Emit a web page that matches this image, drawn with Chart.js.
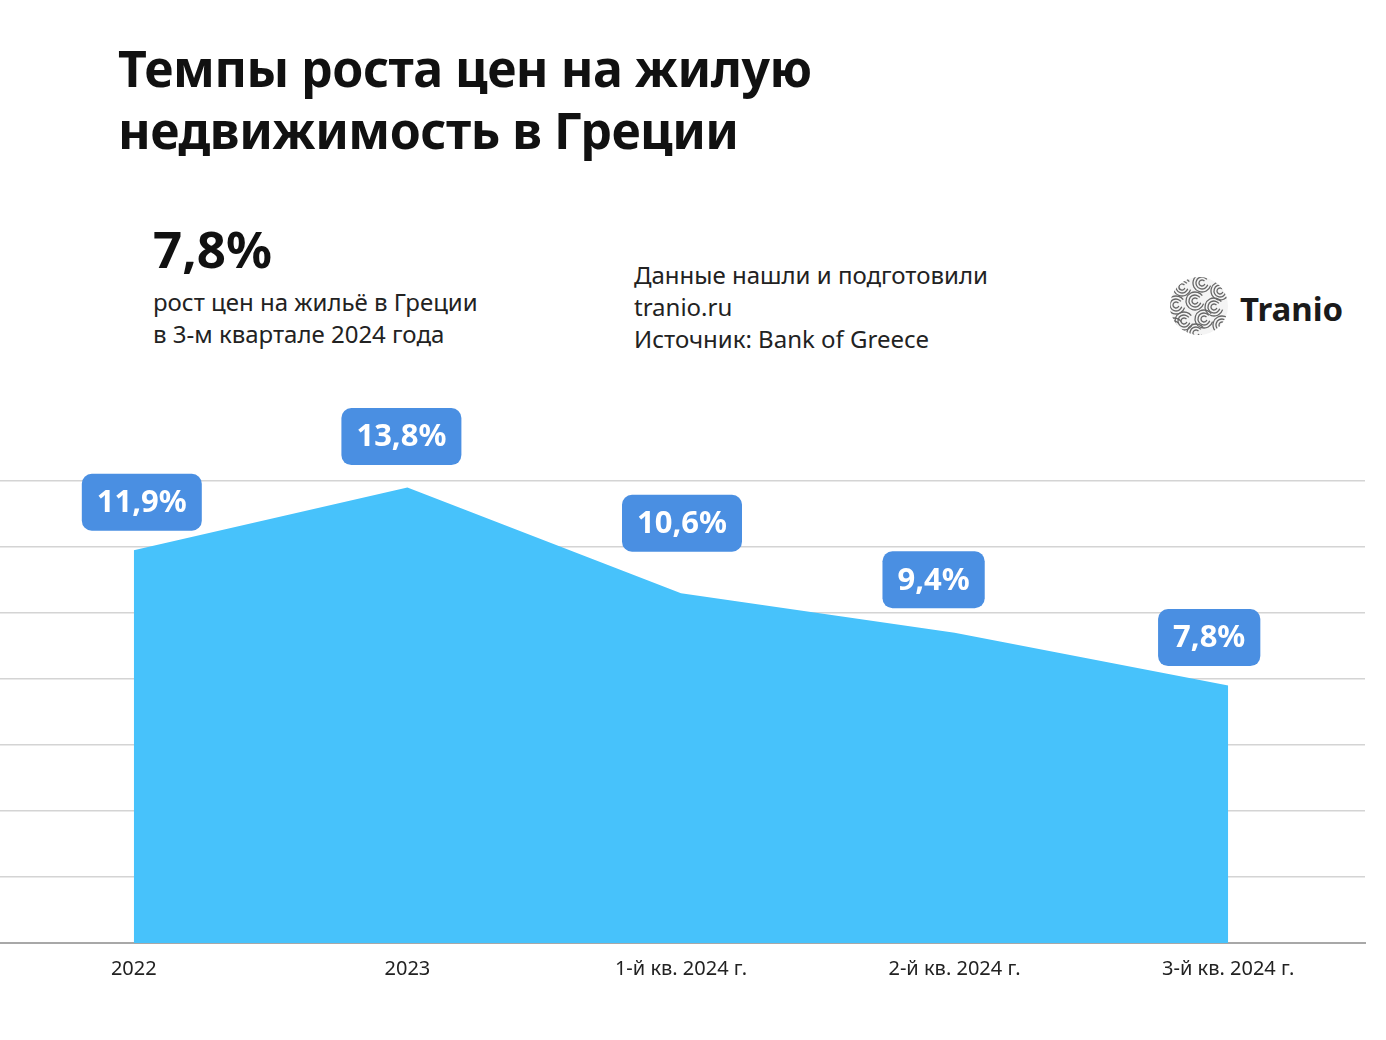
<!DOCTYPE html>
<html>
<head>
<meta charset="utf-8">
<script src="https://cdn.jsdelivr.net/npm/chart.js@4.4.1/dist/chart.umd.min.js"></script>
<style>
  body { margin: 0; background: #fff; font-family: "Noto Sans", sans-serif; color: #111; }
  #page { position: relative; width: 1386px; height: 1040px; overflow: hidden; }
  .txt { position: absolute; white-space: nowrap; }
  #title { left: 118px; top: 37px; font-size: 50px; font-weight: 700; line-height: 62px; letter-spacing: -0.5px; }
  #big { left: 153px; top: 213px; font-size: 51px; font-weight: 700; }
  #sub { left: 153px; top: 286px; font-size: 24px; line-height: 32px; color: #222; }
  #src { left: 634px; top: 259px; font-size: 24px; line-height: 32px; color: #222; }
  #brand { left: 1240px; top: 286px; font-size: 33px; font-weight: 700; color: #1a1a1a; }
  #logo { position: absolute; left: 1168px; top: 275px; }
  #wrap { position: absolute; left: -3px; top: 380px; width: 1389px; height: 640px; }
</style>
</head>
<body>
<div id="page">
  <div class="txt" id="title">Темпы роста цен на жилую<br>недвижимость в Греции</div>
  <div class="txt" id="big">7,8%</div>
  <div class="txt" id="sub">рост цен на жильё в Греции<br>в 3-м квартале 2024 года</div>
  <div class="txt" id="src">Данные нашли и подготовили<br>tranio.ru<br>Источник: Bank of Greece</div>
  <canvas id="logo" width="62" height="62"></canvas>
  <div class="txt" id="brand">Tranio</div>
  <div id="wrap"><canvas id="chart"></canvas></div>
</div>
<script>
// data
const periods = ['2022', '2023', '1-й кв. 2024 г.', '2-й кв. 2024 г.', '3-й кв. 2024 г.'];
const growth = [11.9, 13.8, 10.6, 9.4, 7.8];
const growthLabels = ['11,9%', '13,8%', '10,6%', '9,4%', '7,8%'];

// little swirl logo
const drawLogo = () => {
    let c = document.getElementById('logo').getContext('2d');
    c.save();
    c.beginPath();
    c.arc(31, 31, 29, 0, Math.PI * 2);
    c.clip();
    c.fillStyle = '#f4f4f4';
    c.fillRect(0, 0, 62, 62);
    c.strokeStyle = '#666';
    c.lineWidth = 1.3;
    let centers = [[14, 12], [34, 8], [52, 16], [8, 30], [27, 26], [46, 32], [16, 46], [36, 44], [54, 50], [28, 58], [6, 52]];
    centers.forEach((p) => {
        for (let r = 3; r <= 11; r += 3) {
            c.beginPath();
            c.arc(p[0], p[1], r, 0.3, Math.PI * 1.8);
            c.stroke();
        }
    })
    c.restore();
}
drawLogo();

// boxes with the values above each point
const valueBoxes = {
    id: 'valueBoxes',
    afterDatasetsDraw(chart, args, opts) {
        let ctx = chart.ctx;
        let meta = chart.getDatasetMeta(0);
        ctx.save();
        ctx.font = 'bold 31px "Noto Sans"';
        ctx.textAlign = 'center';
        ctx.textBaseline = 'middle';
        meta.data.forEach((pt, i) => {
            let off = opts.offsets[i];
            let cx = pt.x + off[0];
            let cy = pt.y + off[1];
            let w = ctx.measureText(growthLabels[i]).width + 30;
            let h = 57;
            ctx.fillStyle = '#4a8fe2';
            ctx.beginPath();
            ctx.roundRect(cx - w / 2, cy - h / 2, w, h, 10);
            ctx.fill();
            ctx.fillStyle = '#fff';
            ctx.fillText(growthLabels[i], cx, cy + 1);
        })
        ctx.restore();
    }
};

let myChart = new Chart(document.getElementById('chart'), {
    type: 'line',
    data: {
        labels: periods,
        datasets: [{
            data: growth,
            fill: 'origin',
            backgroundColor: '#47c2fb',
            borderWidth: 0,
            pointRadius: 0,
            tension: 0
        }]
    },
    plugins: [valueBoxes],
    options: {
        responsive: true,
        maintainAspectRatio: false,
        animation: false,
        layout: { padding: { top: 101, right: 21, left: 0, bottom: 0 } },
        plugins: {
            legend: { display: false },
            tooltip: { enabled: false },
            valueBoxes: {
                offsets: [[8, -48], [-6, -51], [1, -70], [-21, -53], [-19, -48]]
            }
        },
        scales: {
            x: {
                offset: true,
                grid: { display: false },
                border: { color: '#a8a8a8', width: 2 },
                ticks: { color: '#222', font: { family: 'Noto Sans', size: 20 }, padding: 6 },
                afterFit: (scale) => { scale.height = 77; }
            },
            y: {
                min: 0,
                max: 14,
                ticks: { stepSize: 2, display: false },
                border: { display: false },
                grid: { color: '#d4d4d4', lineWidth: 1.5, drawTicks: false },
                afterFit: (scale) => { scale.width = 0; }
            }
        }
    }
});
</script>
</body>
</html>
